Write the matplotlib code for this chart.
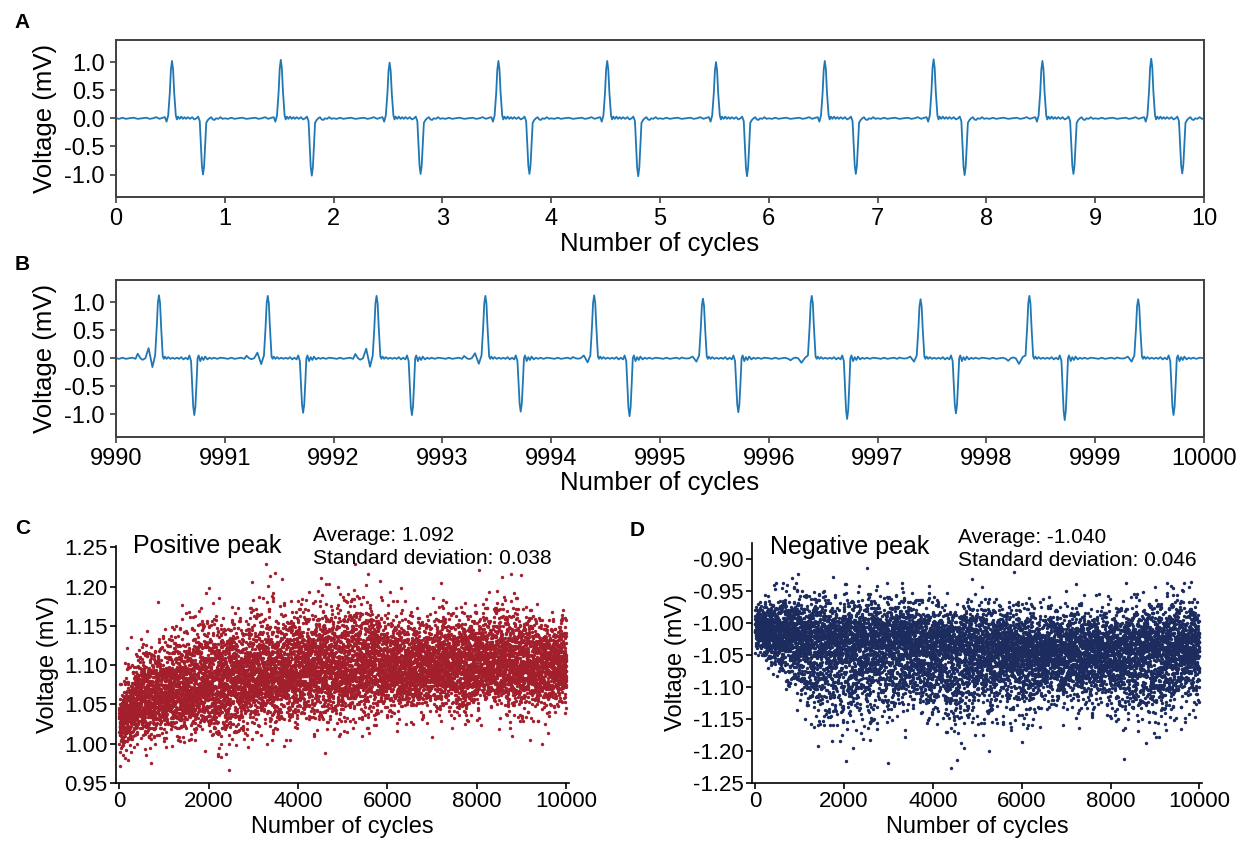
import numpy as np
import matplotlib.pyplot as plt

plt.rcParams['font.family'] = ['Liberation Sans', 'DejaVu Sans']

line_color = '#1f77b4'
pos_color = '#a31f2c'
neg_color = '#1d2c5e'

# ---- panel A: first ten cycles ----
a_start = 0
a_pos_peaks = [1.02, 1.04, 0.99, 1.02, 1.02, 1.00, 1.02, 1.05, 1.02, 1.06]
a_neg_peaks = [-1.00, -1.02, -0.99, -0.99, -1.03, -1.03, -0.99, -1.01, -0.99, -0.98]
# one cycle of the waveform (phase, value), peaks normalised to +/-1
a_phase = [0.00, 0.03, 0.06, 0.09, 0.12, 0.16, 0.20, 0.24, 0.28, 0.31, 0.34, 0.37, 0.40, 0.43,
           0.45, 0.465, 0.48, 0.495, 0.505, 0.515, 0.525, 0.535, 0.55, 0.56, 0.57, 0.585, 0.60,
           0.615, 0.63, 0.645, 0.66, 0.68, 0.70, 0.72, 0.74, 0.755, 0.77, 0.78, 0.79, 0.80, 0.81,
           0.82, 0.83, 0.845, 0.86, 0.875, 0.89, 0.905, 0.92, 0.94, 0.96, 0.98]
a_shape = [0.00, -0.01, 0.01, -0.01, 0.00, 0.01, -0.01, 0.00, 0.01, -0.01, 0.00, 0.02, -0.01, 0.01,
           0.02, -0.06, 0.05, 0.45, 0.85, 1.00, 0.85, 0.45, 0.05, -0.02, 0.03, -0.01, 0.03,
           -0.01, 0.02, -0.01, 0.02, -0.01, 0.02, -0.02, 0.00, 0.03, -0.05, -0.45, -0.85, -1.00, -0.85,
           -0.45, -0.08, -0.03, 0.00, 0.02, -0.02, -0.03, 0.00, -0.01, 0.02, -0.01]

# ---- panel B: last ten cycles ----
b_start = 9990
b_pos_peaks = [1.12, 1.11, 1.11, 1.11, 1.12, 1.06, 1.11, 1.05, 1.11, 1.05]
b_neg_peaks = [-1.01, -0.97, -1.01, -0.95, -1.03, -0.96, -1.08, -0.98, -1.10, -1.01]
b_pre_bumps = [0.18, 0.10, 0.17, 0.09, 0.05, 0.03, -0.08, 0.03, -0.10, 0.03]
b_phase = [0.00, 0.03, 0.06, 0.09, 0.12, 0.15, 0.18, 0.20, 0.225, 0.245, 0.27, 0.30, 0.335,
           0.36, 0.375, 0.385, 0.395, 0.405, 0.415, 0.43, 0.44, 0.45, 0.465, 0.48, 0.50, 0.52,
           0.54, 0.56, 0.58, 0.60, 0.62, 0.64, 0.66, 0.675, 0.69, 0.70, 0.71, 0.72, 0.73, 0.74,
           0.75, 0.76, 0.775, 0.79, 0.805, 0.82, 0.84, 0.86, 0.88, 0.90, 0.93, 0.96]
b_shape = [0.00, -0.01, 0.01, -0.01, 0.00, 0.01, -0.01, 0.00, 0.00, 0.00, 0.00, 0.00, -0.04,
           0.05, 0.50, 0.88, 1.00, 0.88, 0.50, 0.03, -0.01, 0.03, -0.01, 0.02, -0.01, 0.01,
           -0.01, 0.01, -0.01, 0.02, -0.02, 0.01, -0.02, 0.05, -0.05, -0.45, -0.85, -1.00, -0.85, -0.45,
           0.00, 0.05, -0.05, 0.02, -0.03, 0.03, -0.02, 0.01, -0.01, 0.01, -0.01, 0.01]
b_pre_shape = [0, 0, 0, 0, 0, 0, 0, 0.45, 0, -0.15, 0, 1.0, -0.65,
               0, 0, 0, 0, 0, 0, 0, 0, 0, 0, 0, 0, 0,
               0, 0, 0, 0, 0, 0, 0, 0, 0, 0, 0, 0, 0, 0,
               0, 0, 0, 0, 0, 0, 0, 0, 0, 0, 0, 0]

# ---- panels C/D: peak voltage of every cycle, read as a band ----
knot_cycles = [0, 200, 500, 1000, 1500, 2000, 2500, 3000, 3500, 4000, 4500, 5000, 5500,
               6000, 6500, 7000, 7500, 8000, 8500, 9000, 9500, 10000]
pos_center = [1.025, 1.045, 1.058, 1.065, 1.07, 1.075, 1.08, 1.085, 1.09, 1.095, 1.10, 1.10, 1.10,
              1.095, 1.095, 1.10, 1.10, 1.10, 1.10, 1.10, 1.10, 1.10]
pos_lo = [0.02, 0.024, 0.024, 0.024, 0.025, 0.032, 0.036, 0.03, 0.03, 0.03, 0.035, 0.032, 0.03,
          0.027, 0.026, 0.026, 0.026, 0.026, 0.026, 0.026, 0.026, 0.024]
pos_hi = [0.022, 0.028, 0.03, 0.032, 0.034, 0.04, 0.04, 0.038, 0.038, 0.035, 0.035, 0.04, 0.04,
          0.035, 0.03, 0.03, 0.032, 0.035, 0.037, 0.033, 0.03, 0.026]
neg_center = [-1.005, -1.01, -1.015, -1.022, -1.03, -1.035, -1.035, -1.035, -1.035, -1.04, -1.045,
              -1.045, -1.045, -1.05, -1.05, -1.05, -1.05, -1.05, -1.045, -1.045, -1.04, -1.035]
neg_hi = [0.014, 0.018, 0.026, 0.032, 0.034, 0.034, 0.034, 0.034, 0.032, 0.032, 0.032, 0.034, 0.034,
          0.034, 0.032, 0.032, 0.032, 0.032, 0.034, 0.034, 0.034, 0.034]
neg_lo = [0.017, 0.02, 0.028, 0.04, 0.056, 0.056, 0.056, 0.05, 0.045, 0.05, 0.056, 0.05, 0.045,
          0.04, 0.036, 0.036, 0.034, 0.04, 0.045, 0.045, 0.04, 0.04]
pos_stats = 'Average: 1.092\nStandard deviation: 0.038'
neg_stats = 'Average: -1.040\nStandard deviation: 0.046'
n_cycles = 10000


def build_wave(start, phase, shape, pos_peaks, neg_peaks, pre=None, pre_shape=None):
    phase = np.asarray(phase)
    shape = np.asarray(shape)
    xs, ys = [], []
    for i in range(len(pos_peaks)):
        v = shape.copy()
        v[shape > 0.2] *= pos_peaks[i]
        v[shape < -0.2] *= -neg_peaks[i]
        if pre is not None:
            v = v + pre[i] * np.asarray(pre_shape)
        xs.append(start + i + phase)
        ys.append(v)
    xs.append([start + len(pos_peaks)])
    ys.append([0.0])
    return np.concatenate(xs), np.concatenate(ys)


def peak_cloud(center, lo, hi, seed):
    # scatter of the per-cycle peaks inside the band
    rng = np.random.default_rng(seed)
    x = np.arange(1, n_cycles + 1)
    c = np.interp(x, knot_cycles, center)
    z = rng.standard_normal(n_cycles)
    spread = np.where(z < 0, np.interp(x, knot_cycles, lo), np.interp(x, knot_cycles, hi))
    return x, c + z * spread


fig = plt.figure(figsize=(12.47, 8.51), dpi=100)

wave_fs = 17
wave_label_fs = 18.5
for idx, (label, start, wave) in enumerate([
        ('A', a_start, build_wave(a_start, a_phase, a_shape, a_pos_peaks, a_neg_peaks)),
        ('B', b_start, build_wave(b_start, b_phase, b_shape, b_pos_peaks, b_neg_peaks,
                                  b_pre_bumps, b_pre_shape))]):
    bottom = [0.7685, 0.4865][idx]
    ax = fig.add_axes([0.093, bottom, 0.8725, 0.185])
    ax.plot(wave[0], wave[1], color=line_color, lw=1.3)
    ax.set_xlim(start, start + 10)
    ax.set_ylim(-1.4, 1.4)
    xt = np.arange(start, start + 11, 1)
    ax.set_xticks(xt)
    ax.set_xticklabels([str(t) for t in xt])
    ax.set_yticks([-1.0, -0.5, 0.0, 0.5, 1.0])
    ax.set_yticklabels(['-1.0', '-0.5', '0.0', '0.5', '1.0'])
    ax.tick_params(labelsize=wave_fs, length=4, width=1.2, color='#404040', pad=4)
    for s in ax.spines.values():
        s.set_color('#404040')
        s.set_linewidth(1.4)
    ax.set_xlabel('Number of cycles', fontsize=wave_label_fs, labelpad=1)
    ax.set_ylabel('Voltage (mV)', fontsize=wave_label_fs)
    ax.yaxis.set_label_coords(-0.054, 0.5)
    fig.text(0.012, [0.974, 0.689][idx], label, fontsize=15, fontweight='bold', va='center')

scatter_fs = 16
scatter_label_fs = 17
for label, rect, center, lo, hi, seed, color, ylim, yticks, name, name_xy, stats, stats_xy, lab_xy in [
        ('C', [0.093, 0.080, 0.3633, 0.2785], pos_center, pos_lo, pos_hi, 1, pos_color,
         (0.95, 1.252), np.arange(0.95, 1.2501, 0.05), 'Positive peak', (0.037, 1.0),
         pos_stats, (0.435, 1.084), (0.012, 0.3795)),
        ('D', [0.603, 0.080, 0.361, 0.282], neg_center, neg_lo, neg_hi, 2, neg_color,
         (-1.25, -0.875), np.arange(-1.25, -0.8999, 0.05), 'Negative peak', (0.04, 0.983),
         neg_stats, (0.458, 1.063), (0.505, 0.377))]:
    ax = fig.add_axes(rect)
    x, y = peak_cloud(center, lo, hi, seed)
    ax.scatter(x, y, s=6, color=color, linewidths=0)
    ax.set_xlim(-70, 10060)
    ax.set_ylim(*ylim)
    ax.set_xticks([0, 2000, 4000, 6000, 8000, 10000])
    ax.set_yticks(yticks)
    ax.set_yticklabels([f'{t:.2f}' for t in yticks])
    ax.spines['top'].set_visible(False)
    ax.spines['right'].set_visible(False)
    for s in ['left', 'bottom']:
        ax.spines[s].set_linewidth(1.2)
    ax.tick_params(labelsize=scatter_fs, length=4, width=1.2, pad=2)
    ax.set_xlabel('Number of cycles', fontsize=scatter_label_fs, labelpad=3)
    ax.set_ylabel('Voltage (mV)', fontsize=scatter_label_fs, labelpad=4)
    ax.text(name_xy[0], name_xy[1], name, transform=ax.transAxes, fontsize=18, va='center')
    ax.text(stats_xy[0], stats_xy[1], stats, transform=ax.transAxes, fontsize=15, va='top',
            linespacing=1.25)
    fig.text(lab_xy[0], lab_xy[1], label, fontsize=15, fontweight='bold', va='center')

fig.savefig('out.png', dpi=100)
